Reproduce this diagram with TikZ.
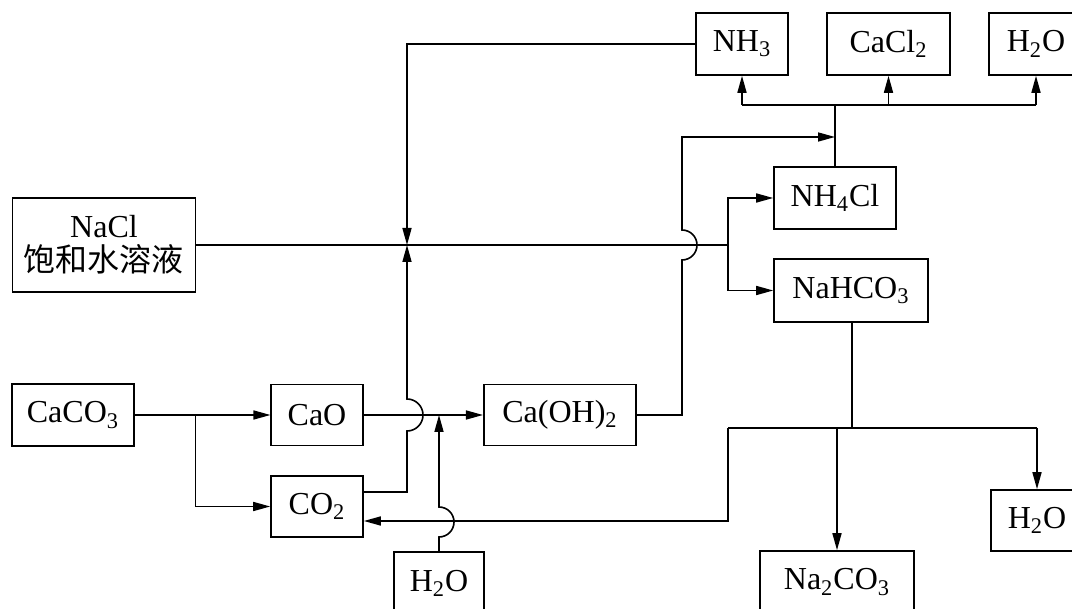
\documentclass[tikz,border=0pt]{standalone}
\usepackage{fontspec}
\setmainfont{Liberation Serif}
\newfontfamily\cjk{Noto Sans CJK SC}
\usetikzlibrary{calc}
\usetikzlibrary{arrows.meta}
\tikzset{%
  myflow/.style={-{Triangle[length=8.5pt,width=4.5pt]}, line width=0.8pt},
  myline/.style={line width=0.8pt},
  mybox/.style={draw=black, line width=0.8pt, inner sep=0pt, align=center,
    font=\fontsize{16}{17}\selectfont}
}

\begin{document}
\begin{tikzpicture}[x=0.5pt,y=-0.5pt]
  \useasboundingbox (0,0) rectangle (1072,609);
  \node[mybox, minimum width=91.5pt, minimum height=47pt] (nacl) at (104,245) {NaCl\\{\cjk 饱和水溶液}};
  \node[mybox, minimum width=46pt, minimum height=31pt] (nh3) at (742,44) {NH\textsubscript{3}};
  \node[mybox, minimum width=61.5pt, minimum height=31pt] (cacl) at (888.5,44) {CaCl\textsubscript{2}};
  \node[mybox, minimum width=47pt, minimum height=31pt] (wtop) at (1036,44) {H\textsubscript{2}O};
  \node[mybox, minimum width=61pt, minimum height=31pt] (nhcl) at (835,198) {NH\textsubscript{4}Cl};
  \node[mybox, minimum width=77pt, minimum height=31.5pt] (nahco) at (851,290.5) {NaHCO\textsubscript{3}};
  \node[mybox, minimum width=60.75pt, minimum height=31pt] (caco) at (73,415) {CaCO\textsubscript{3}};
  \node[mybox, minimum width=45.75pt, minimum height=30.5pt] (cao) at (317,415) {CaO};
  \node[mybox, minimum width=46pt, minimum height=30.5pt] (co2) at ($(cao)+(0,91.5)$) {CO\textsubscript{2}};
  \node[mybox, minimum width=76.25pt, minimum height=30.5pt] (caoh) at (560,415) {Ca(OH)\textsubscript{2}};
  \node[mybox, minimum width=45pt, minimum height=31pt] (wlow) at (439,583) {H\textsubscript{2}O};
  \node[mybox, minimum width=77pt, minimum height=31pt] (naco) at (837,582) {Na\textsubscript{2}CO\textsubscript{3}};
  \node[mybox, minimum width=46pt, minimum height=30.5pt] (wside) at (1037,520.5) {H\textsubscript{2}O};
  \coordinate (mix) at (407,245);
  \coordinate (split) at (728,245);
  \coordinate (fork) at (195.5,415);
  \coordinate (top) at (835,105);
  \coordinate (low) at (852,428);
  \coordinate (back) at (728,428);
  \draw [myline] (nacl.east) -- (split);
  \draw [myflow] (split) |- (nhcl.west);
  \draw [myflow] (split) |- (nahco.west);
  \draw [myflow] (nh3.west) -| (mix);
  \draw [myflow] ($(co2.east)+(0,-14.5)$) -| (407,431) arc[start angle=90, end angle=-90, radius=16] -- (mix);
  \draw [myflow] (caco.east) -- (cao.west);
  \draw [myflow] (fork) |- (co2.west);
  \draw [myflow] (cao.east) -- (caoh.west);
  \draw [myflow] (wlow.north) -- (439,537) arc[start angle=90, end angle=-90, radius=15] -- (439,415);
  \draw [myflow] (caoh.east) -| (682,260) arc[start angle=90, end angle=-90, radius=15] -- (682,137) -- (nhcl.north |- 0,137);
  \draw [myline] (nhcl.north) -- (top);
  \draw [myline] (nh3.south |- top) -- (wtop.south |- top);
  \draw [myflow] (nh3.south |- top) -- (nh3.south);
  \draw [myflow] (cacl.south |- top) -- (cacl.south);
  \draw [myflow] (wtop.south |- top) -- (wtop.south);
  \draw [myline] (nahco.south -| low) -- (low);
  \draw [myline] (back) -- (wside.north |- low);
  \draw [myflow] (naco.north |- low) -- (naco.north);
  \draw [myflow] (wside.north |- low) -- (wside.north);
  \draw [myflow] (back) |- ($(co2.east)+(0,14.5)$);
\end{tikzpicture}
\end{document}
